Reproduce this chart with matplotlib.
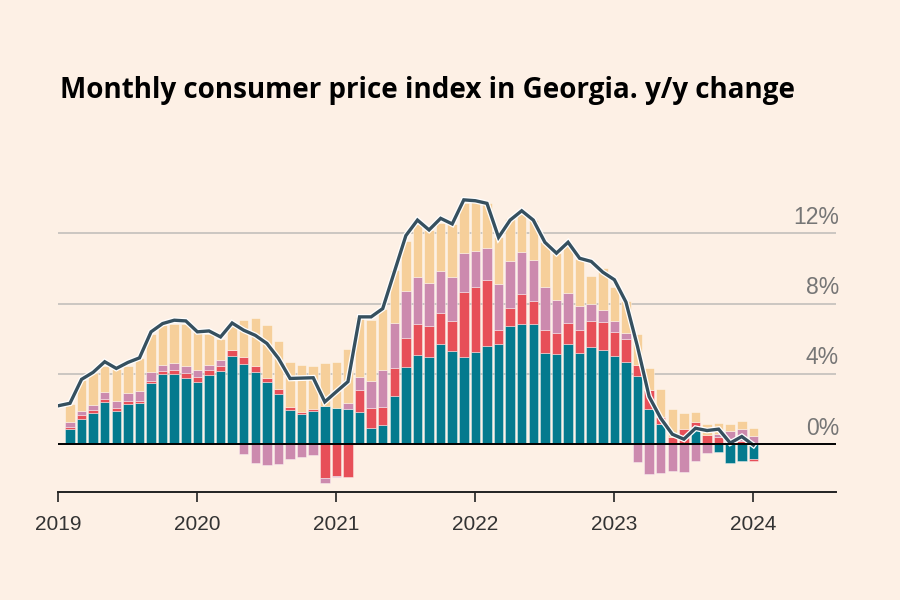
import matplotlib
matplotlib.use("Agg")
import matplotlib.pyplot as plt
import matplotlib.patheffects as pe
import matplotlib.transforms as mtransforms
import numpy as np

# ---- data (contributions, percentage points), Jan 2019 .. Dec 2023 ----
food = [0.89, 1.47, 1.79, 2.42, 1.91, 2.30, 2.36, 3.47, 4.02, 4.02, 3.79, 3.57,
        3.94, 4.17, 5.04, 4.58, 4.13, 3.55, 2.89, 1.98, 1.75, 1.91, 2.19, 2.06,
        2.02, 1.87, 0.94, 1.08, 2.77, 4.42, 5.09, 4.98, 5.72, 5.32, 4.98, 5.26,
        5.60, 5.68, 6.75, 6.85, 6.85, 5.19, 5.13, 5.72, 5.19, 5.55, 5.38, 5.04,
        4.70, 3.91, 2.02, 1.17, 0.00, 0.10, 0.98, 0.05, -0.42, -1.08, -0.93, -0.80]
transport = [0.11, 0.19, 0.15, 0.15, 0.15, 0.15, 0.11, 0.15, 0.15, 0.21, 0.29, 0.28,
             0.29, 0.28, 0.32, 0.40, 0.32, 0.24, 0.26, 0.13, 0.10, 0.11, -1.92, -1.77,
             -1.85, 1.22, 1.14, 1.07, 1.59, 1.64, 1.74, 1.74, 1.75, 1.68, 3.66, 3.68,
             3.72, 0.83, 0.99, 1.70, 1.30, 1.32, 1.19, 1.19, 1.32, 1.49, 1.58, 1.36,
             1.30, 0.60, 1.06, 0.38, 0.45, 0.78, 0.30, 0.50, 0.40, 0.00, 0.19, -0.12]
utilities = [0.28, 0.24, 0.29, 0.39, 0.41, 0.47, 0.55, 0.47, 0.34, 0.39, 0.37, 0.38,
             0.28, 0.34, 0.00, -0.57, -1.06, -1.17, -1.11, -0.83, -0.74, -0.62, -0.27, -0.08,
             0.34, 0.76, 1.52, 2.08, 2.54, 2.66, 2.68, 2.45, 2.38, 2.51, 2.23, 2.08,
             1.85, 2.58, 2.68, 2.39, 2.34, 2.43, 1.87, 1.67, 1.38, 0.96, 0.66, 0.62,
             0.32, -1.02, -1.66, -1.62, -1.50, -1.55, -0.92, -0.47, 0.18, 0.74, 0.68, 0.49]
other = [1.00, 1.76, 1.85, 1.51, 1.79, 1.55, 1.87, 2.21, 2.26, 2.25, 2.42, 2.17,
         1.75, 1.23, 1.54, 2.12, 2.75, 3.02, 2.72, 2.55, 2.68, 2.45, 2.43, 2.60,
         3.06, 3.40, 3.46, 3.45, 2.99, 2.86, 3.02, 3.04, 2.72, 3.02, 2.83, 2.73,
         2.53, 2.72, 2.39, 2.15, 2.26, 2.55, 2.68, 2.85, 2.66, 1.60, 2.42, 1.92,
         1.81, 1.79, 1.26, 1.60, 1.55, 0.92, 0.54, 0.60, 0.62, 0.43, 0.49, 0.46]
# headline CPI y/y, Dec 2018 .. Dec 2023
headline = [2.20,
            2.34, 3.70, 4.10, 4.70, 4.32, 4.66, 4.92, 6.40, 6.87, 7.06, 7.02, 6.40,
            6.45, 6.11, 6.90, 6.49, 6.20, 5.74, 4.89, 3.75, 3.77, 3.79, 2.42, 3.00,
            3.57, 7.25, 7.25, 7.72, 9.80, 11.87, 12.75, 12.19, 12.85, 12.53, 13.90, 13.85,
            13.70, 11.77, 12.75, 13.28, 12.75, 11.49, 10.87, 11.49, 10.58, 10.40, 9.79, 9.36,
            8.09, 5.55, 2.72, 1.49, 0.58, 0.30, 0.92, 0.79, 0.87, 0.08, 0.45, -0.04]
year_ticks = [2019, 2020, 2021, 2022, 2023, 2024]
y_ticks = [0, 4, 8, 12]
title = "Monthly consumer price index in Georgia. y/y change"

series = [food, transport, utilities, other]
colors = ["#047a8e", "#e74f58", "#cc8aae", "#f6cf9a"]
bg = "#fdf0e5"

plt.rcParams['font.family'] = ['Liberation Sans', 'DejaVu Sans']

fig = plt.figure(figsize=(9, 6), dpi=100, facecolor=bg)
ax = fig.add_axes([58.4 / 900, (600 - 492.3) / 600, (835.8 - 58.4) / 900, (492.3 - 190) / 600])
ax.set_facecolor(bg)

n = len(food)
xb = 2019 + (np.arange(n) + 1) / 12.0
xl = 2019 + np.arange(len(headline)) / 12.0

pos_base = np.zeros(n)
neg_base = np.zeros(n)
for vals, c in zip(series, colors):
    v = np.array(vals, dtype=float)
    bottom = np.where(v >= 0, pos_base, neg_base)
    ax.bar(xb, v, width=0.82 / 12, bottom=bottom, color=c,
           edgecolor=(1, 1, 1, 0.45), linewidth=0.6, zorder=3)
    pos_base = pos_base + np.where(v >= 0, v, 0)
    neg_base = neg_base + np.where(v < 0, v, 0)

ax.plot(xl, headline, color="#36505f", linewidth=2.4, zorder=5,
        solid_joinstyle='miter',
        path_effects=[pe.Stroke(linewidth=4.2, foreground="white"), pe.Normal()])

ax.set_xlim(2019.0, 2024.593)
ax.set_ylim(-2.72, 14.46)

for t in y_ticks:
    if t == 0:
        ax.axhline(0, color="black", linewidth=1.4, zorder=6)
    else:
        ax.axhline(t, color="#cbc6c2", linewidth=1.4, zorder=1)
trans = mtransforms.blended_transform_factory(ax.transAxes, ax.transData)
for t in y_ticks:
    ax.text(1.004, t + 0.27, f"{t}%", transform=trans, ha="right", va="bottom",
            fontsize=16.5, color="#767676", zorder=7)

for s in ["top", "right", "left"]:
    ax.spines[s].set_visible(False)
ax.spines["bottom"].set_linewidth(1.4)
ax.spines["bottom"].set_color("#222222")
ax.set_yticks([])
ax.set_xticks(year_ticks)
ax.set_xticklabels([str(y) for y in year_ticks])
ax.tick_params(axis="x", length=7, width=1.2, color="#222222", pad=9,
               labelsize=15, labelcolor="#333333")

fig.text(60 / 900, 1 - 98 / 600, title, fontsize=20, fontweight="bold",
         family=["Open Sans", "DejaVu Sans"], color="black", ha="left", va="baseline")

fig.savefig("out.png", dpi=100, facecolor=bg)
